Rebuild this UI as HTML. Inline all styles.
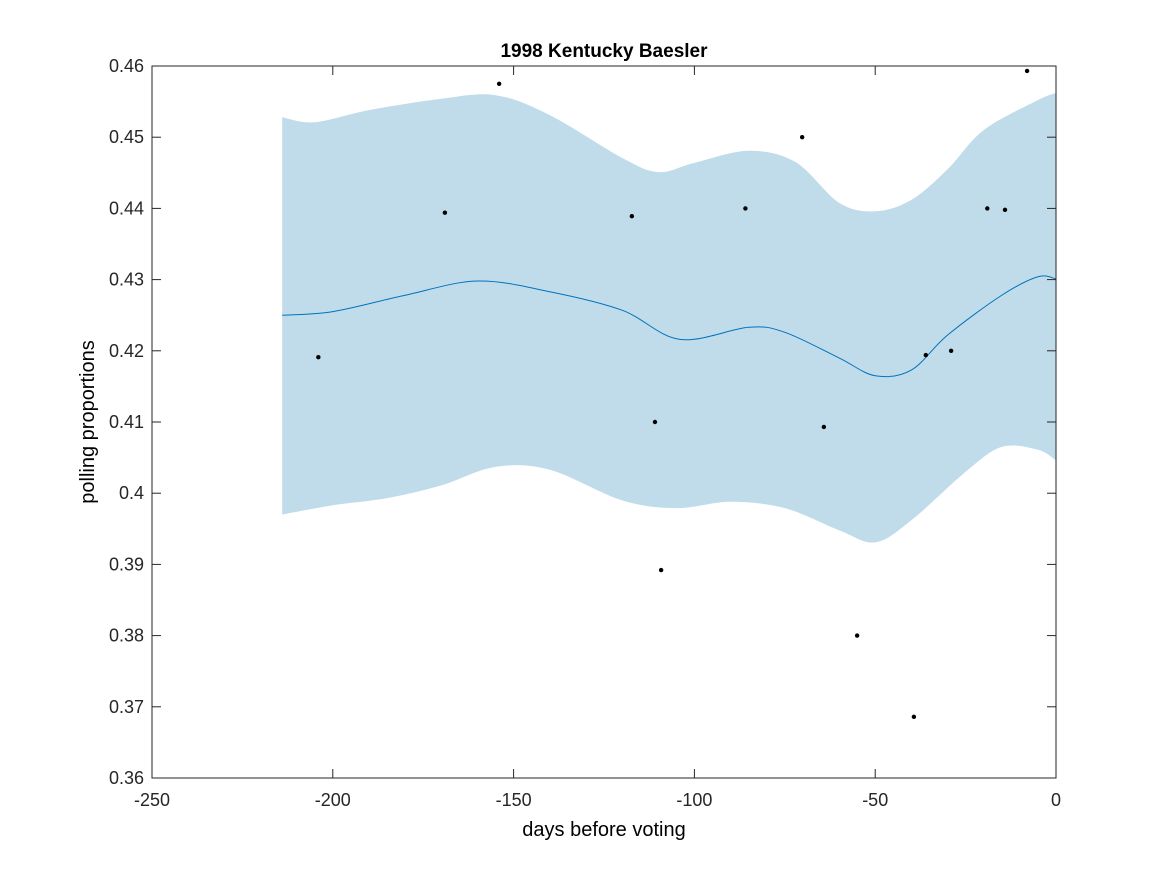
<!DOCTYPE html>
<html><head><meta charset="utf-8"><style>
body{margin:0;background:#fff;}
svg{display:block;font-family:"Liberation Sans",sans-serif;}
</style></head><body>
<svg id="chart" width="1167" height="875">
<rect x="0" y="0" width="1167" height="875" fill="#fff"/>
<g id="band"></g>
<g id="meanline"></g>
<g id="points"></g>
<g id="axes"></g>
<text x="604" y="57" text-anchor="middle" font-size="19" font-weight="bold">1998 Kentucky Baesler</text>
<text x="604" y="836" text-anchor="middle" font-size="20">days before voting</text>
<text transform="translate(94,422) rotate(-90)" text-anchor="middle" font-size="20">polling proportions</text>
</svg>
<script>
const pointDays=[-204,-169,-154,-117.3,-110.9,-109.2,-85.9,-70.2,-64.2,-55,-39.3,-36,-29,-19,-14.1,-8];
const pointVals=[0.4191,0.4394,0.4575,0.4389,0.41,0.3892,0.44,0.450,0.4093,0.38,0.3686,0.4194,0.420,0.440,0.4398,0.4593];
const meanDays=[-214,-200,-180,-160,-140,-120,-104,-85,-75,-60,-50,-40,-30,-15,-5,0];
const meanVals=[0.425,0.4255,0.4278,0.4298,0.4283,0.4257,0.4216,0.4233,0.4226,0.419,0.4165,0.4173,0.4222,0.4278,0.4304,0.4301];
const upperDays=[-214,-205,-190,-170,-155,-140,-120,-110,-100,-85,-72,-60,-50,-40,-30,-20,-5,0];
const upperVals=[0.4528,0.4521,0.4538,0.4554,0.4559,0.4531,0.4471,0.4451,0.4464,0.4481,0.4465,0.4408,0.4396,0.4412,0.4455,0.451,0.4552,0.4562];
const lowerDays=[-214,-200,-185,-170,-155,-140,-120,-105,-90,-75,-60,-50,-40,-25,-15,-5,0];
const lowerVals=[0.397,0.3983,0.3993,0.4011,0.4037,0.4033,0.399,0.3979,0.3988,0.3979,0.3948,0.3931,0.3962,0.403,0.4065,0.4061,0.4046];
const xTicks=[-250,-200,-150,-100,-50,0];
const yTicks=[0.36,0.37,0.38,0.39,0.40,0.41,0.42,0.43,0.44,0.45,0.46];
const yTickLabels=["0.36","0.37","0.38","0.39","0.4","0.41","0.42","0.43","0.44","0.45","0.46"];
const L=152,R=1056,T=66,B=778;
const xs=d=>L+(d+250)/250*(R-L);
const ys=v=>B-(v-0.36)/0.1*(B-T);
const NS='http://www.w3.org/2000/svg';
function mk(t,a,p){const e=document.createElementNS(NS,t);for(const k in a)e.setAttribute(k,a[k]);p.appendChild(e);return e;}
function smooth(pts,move){let s=move?`M${pts[0][0]},${pts[0][1]}`:`L${pts[0][0]},${pts[0][1]}`;
for(let i=0;i<pts.length-1;i++){const p0=pts[i-1]||pts[i],p1=pts[i],p2=pts[i+1],p3=pts[i+2]||p2;
s+=` C${p1[0]+(p2[0]-p0[0])/6},${p1[1]+(p2[1]-p0[1])/6} ${p2[0]-(p3[0]-p1[0])/6},${p2[1]-(p3[1]-p1[1])/6} ${p2[0]},${p2[1]}`;}return s;}
const up=upperDays.map((d,i)=>[xs(d),ys(upperVals[i])]);
const lo=lowerDays.map((d,i)=>[xs(d),ys(lowerVals[i])]).reverse();
const bp=mk('path',{d:smooth(up,true)+' '+smooth(lo,false)+' Z',fill:'#c0dcea',stroke:'none'},document.getElementById('band'));


const mp=mk('path',{d:smooth(meanDays.map((d,i)=>[xs(d),ys(meanVals[i])]),true),fill:'none',stroke:'#0072bd','stroke-width':1},document.getElementById('meanline'));


const pg=document.getElementById('points');
pointDays.forEach((d,i)=>{const c=mk('circle',{cx:xs(d),cy:ys(pointVals[i]),r:2.2,fill:'#000'},pg);

});
const ax=document.getElementById('axes');
const fr=mk('rect',{x:L,y:T,width:R-L,height:B-T,fill:'none',stroke:'#262626','stroke-width':1},ax);


xTicks.forEach(t=>{const x=xs(t);mk('line',{x1:x,x2:x,y1:B,y2:B-9,stroke:'#262626'},ax);mk('line',{x1:x,x2:x,y1:T,y2:T+9,stroke:'#262626'},ax);
const tx=mk('text',{x:x,y:B+28,'text-anchor':'middle','font-size':18,fill:'#262626'},ax);tx.textContent=String(t);

});
yTicks.forEach((t,i)=>{const y=ys(t);mk('line',{x1:L,x2:L+9,y1:y,y2:y,stroke:'#262626'},ax);mk('line',{x1:R,x2:R-9,y1:y,y2:y,stroke:'#262626'},ax);
const tx=mk('text',{x:L-8,y:y+6,'text-anchor':'end','font-size':18,fill:'#262626'},ax);tx.textContent=yTickLabels[i];

});
</script>
</body></html>
